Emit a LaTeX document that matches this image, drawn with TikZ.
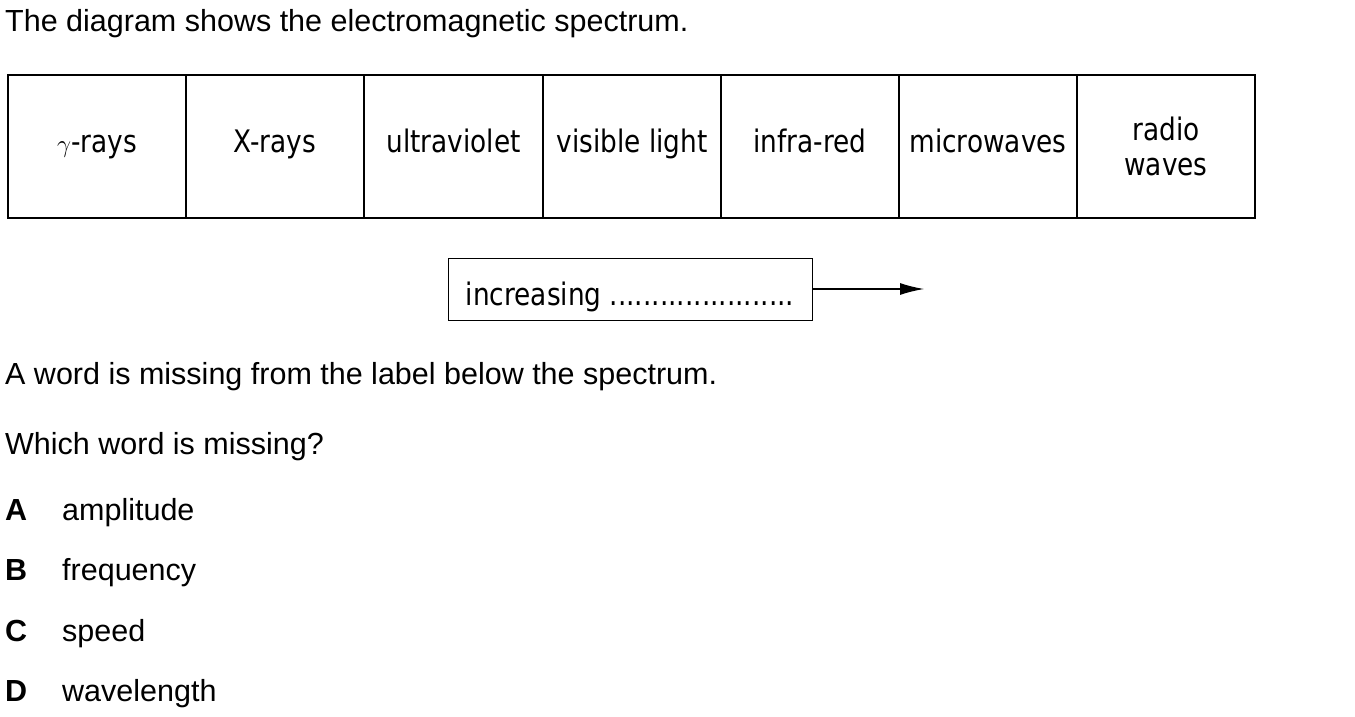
\documentclass[tikz,border=0pt]{standalone}
\usepackage{fontspec}
\setmainfont{Liberation Sans}
\newfontfamily\diagfont{DejaVu Sans}[FakeStretch=0.85]
\usetikzlibrary{arrows.meta,positioning}

\begin{document}
\begin{tikzpicture}[
  x=1pt, y=-1pt,
  band/.style={draw, line width=1.4pt, minimum width=178pt, minimum height=143pt, inner sep=0pt, align=center, font=\diagfont\fontsize{31}{35}\selectfont},
  bandline/.style={band, text height=24pt, text depth=13pt},
  labelbox/.style={draw, line width=1pt, minimum width=364pt, minimum height=62pt, inner sep=0pt, text height=36pt, text depth=4pt, font=\diagfont\fontsize{31}{35}\selectfont},
  qtext/.style={anchor=base west, inner sep=0pt, font=\fontsize{30.5}{36}\selectfont},
  arrow/.style={-{Latex[length=24pt,width=12pt]}, line width=1.2pt}
]
\useasboundingbox (0,0) rectangle (1355,717);

\node[qtext] (intro) at (5,32) {The diagram shows the electromagnetic spectrum.};

% spectrum bands
\node[bandline] (gamma) at (97,146.5) {$\gamma$-rays};
\node[bandline] (xray) at (275,146.5) {X-rays};
\node[bandline] (uv) at (453.5,146.5) {ultraviolet};
\node[bandline] (vis) at (632,146.5) {visible light};
\node[bandline] (ir) at (810,146.5) {infra-red};
\node[bandline] (micro) at (988,146.5) {microwaves};
\node[band] (radio) at (1166,146.5) {radio\\waves};

% label with arrow
\node[labelbox] (label) at (630,289) {increasing ......................};
\coordinate (tip) at (924,289);
\draw[arrow] (label.east) -- (tip);

\node[qtext] (missing) at (5,384) {A word is missing from the label below the spectrum.};
\node[qtext] (which) at (5,454) {Which word is missing?};

% options
\node[qtext, font=\bfseries\fontsize{30.5}{36}\selectfont] (optA) at (5,520) {A};
\node[qtext] (ansA) at (62,520) {amplitude};
\node[qtext, font=\bfseries\fontsize{30.5}{36}\selectfont] (optB) at (5,580) {B};
\node[qtext] (ansB) at (62,580) {frequency};
\node[qtext, font=\bfseries\fontsize{30.5}{36}\selectfont] (optC) at (5,641) {C};
\node[qtext] (ansC) at (62,641) {speed};
\node[qtext, font=\bfseries\fontsize{30.5}{36}\selectfont] (optD) at (5,701) {D};
\node[qtext] (ansD) at (62,701) {wavelength};
\end{tikzpicture}
\end{document}
